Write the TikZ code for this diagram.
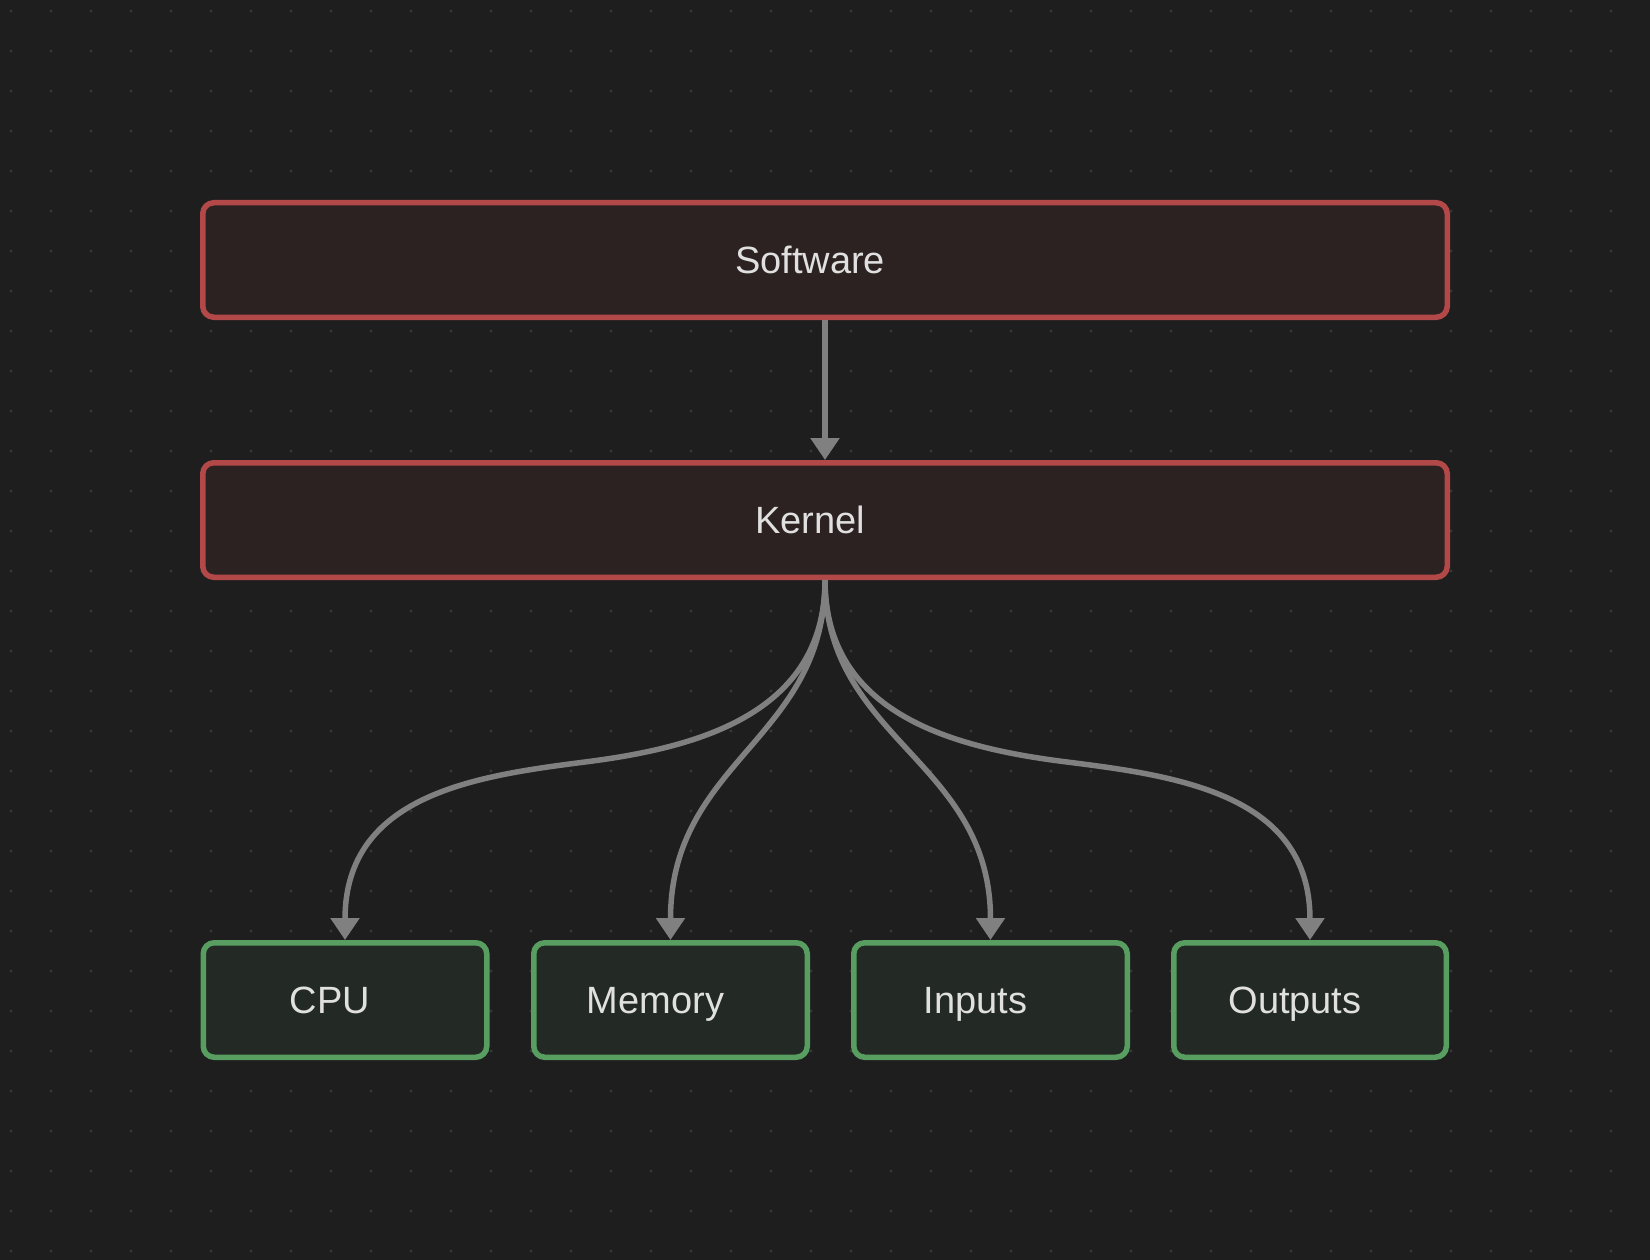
\documentclass[tikz,border=0pt]{standalone}
\usepackage{fontspec}
\setmainfont{Liberation Sans}
\usetikzlibrary{arrows.meta}
\definecolor{bgc}{HTML}{1E1E1E}
\definecolor{dotc}{HTML}{383838}
\definecolor{redline}{HTML}{B24848}
\definecolor{redfill}{HTML}{2D2222}
\definecolor{greenline}{HTML}{589E60}
\definecolor{greenfill}{HTML}{232A25}
\definecolor{arrc}{HTML}{808080}
\definecolor{txtc}{HTML}{E0E0E0}
\tikzset{
  box/.style={rectangle, rounded corners=11pt, line width=5.5pt, inner sep=0pt,
    text=txtc, font=\fontsize{38}{44}\selectfont, anchor=center,
    text height=27.5pt, text depth=0pt},
  redbox/.style={box, draw=redline, fill=redfill, minimum width=1244.5pt, minimum height=114.5pt},
  greenbox/.style={box, draw=greenline, fill=greenfill, minimum height=114.5pt},
  arr/.style={draw=arrc, line width=5.5pt, -{Triangle[width=28pt,length=22pt]}}
}
\begin{document}
\begin{tikzpicture}[x=1pt,y=-1pt]
\fill[bgc] (0,0) rectangle (1650,1260);
\useasboundingbox (0,0) rectangle (1650,1260);
\foreach \i in {0,...,40}{
  \foreach \j in {0,...,31}{
    \fill[dotc] (11+40*\i,11+40*\j) circle (1.6pt);
  }
}
\node[redbox] (software) at (825,260) {Software\kern30pt};
\node[redbox] (kernel) at (825,520) {Kernel\kern30pt};
\node[greenbox, minimum width=283.5pt] (cpu) at (345,1000) {CPU\kern30pt};
\node[greenbox, minimum width=273.5pt] (memory) at (670.5,1000) {Memory\kern30pt};
\node[greenbox, minimum width=273.5pt] (inputs) at (990.5,1000) {Inputs\kern30pt};
\node[greenbox, minimum width=272.5pt] (outputs) at (1310,1000) {Outputs\kern30pt};

\draw[arr] (software.south) -- (kernel.north);
\draw[arr] (kernel.south) .. controls +(0,135) and (695,748) .. (585,762)
  .. controls (475,776) and +(0,-145) .. (cpu.north);
\draw[arr] (kernel.south) .. controls +(0,160) and +(0,-180) .. (memory.north);
\draw[arr] (kernel.south) .. controls +(0,160) and +(0,-180) .. (inputs.north);
\draw[arr] (kernel.south) .. controls +(0,135) and (955,748) .. (1067,762)
  .. controls (1179,776) and +(0,-145) .. (outputs.north);
\end{tikzpicture}
\end{document}
